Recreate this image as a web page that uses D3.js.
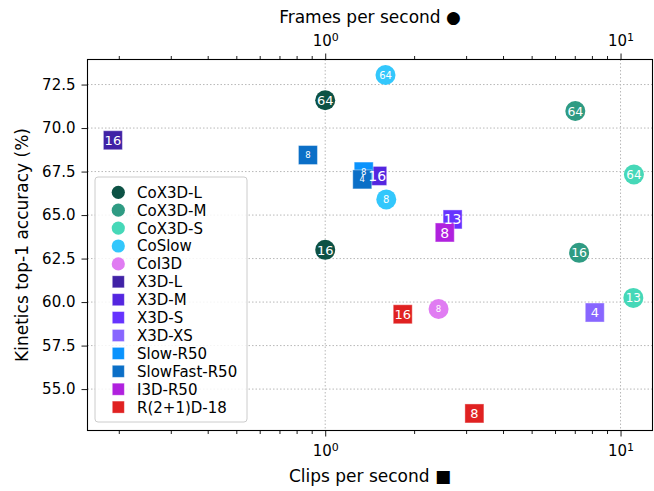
<!DOCTYPE html>
<html><head><meta charset="utf-8">
<script src="https://cdn.jsdelivr.net/npm/d3@7"></script>
<style>body{margin:0;background:#fff}text{font-family:"DejaVu Sans",sans-serif}</style>
</head><body><svg id="c" width="654" height="491"></svg>
<script>
// ---- data ----
const models = ["CoX3D-L","CoX3D-M","CoX3D-S","CoSlow","CoI3D","X3D-L","X3D-M","X3D-S","X3D-XS","Slow-R50","SlowFast-R50","I3D-R50","R(2+1)D-18"];
const speed = [[1.0,1.0],[7.03,7.24],[11.1,11.05],[1.6,1.61],[2.42],[0.191],[1.5],[2.7],[8.18],[1.35],[0.874,1.335],[2.54],[1.83,3.2]];
const accuracy = [[71.6,63.0],[70.98,62.83],[67.33,60.24],[73.05,65.9],[59.6],[69.3],[67.25],[64.75],[59.4],[67.5],[68.45,67.05],[64.0],[59.3,53.6]];
const pointLabels = [["64","16"],["64","16"],["64","13"],["64","8"],["8"],["16"],["16"],["13"],["4"],["8"],["8","4"],["8"],["16","8"]];
const yTicks = [55,57.5,60,62.5,65,67.5,70,72.5];
const xMajorTicks = [1,10];
const xMinorTicks = [0.2,0.3,0.4,0.5,0.6,0.7,0.8,0.9,2,3,4,5,6,7,8,9];

// ---- styles ----
const colors = {"CoX3D-L":"#0d5245","CoX3D-M":"#2f9b83","CoX3D-S":"#46d8b8","CoSlow":"#33c7fc","CoI3D":"#e07cf2",
  "X3D-L":"#4022a6","X3D-M":"#5426e0","X3D-S":"#6633ff","X3D-XS":"#8866ff","Slow-R50":"#0a93fd",
  "SlowFast-R50":"#0b6fc7","I3D-R50":"#b021de","R(2+1)D-18":"#e02121"};
const labelSize = {"CoX3D-L":13,"CoX3D-M":12.5,"CoX3D-S":12,"CoSlow":10,"CoI3D":8.5,"X3D-L":13,"X3D-M":14,
  "X3D-S":14,"X3D-XS":13,"Slow-R50":8.5,"SlowFast-R50":8.5,"I3D-R50":14,"R(2+1)D-18":13};

const svg = d3.select("#c");
const L = 87.5, R = 652.5, T = 59.5, B = 430.5;
const x = d3.scaleLog().domain([0.1567, 12.83]).range([L, R]);
const y = d3.scaleLinear().domain([52.62, 73.94]).range([B, T]);

// grid
const grid = svg.append("g").attr("stroke","#b8b8b8").attr("stroke-width",1).attr("stroke-dasharray","1.5,2");
grid.selectAll("line.h").data(yTicks).join("line").attr("x1",L).attr("x2",R).attr("y1",d=>y(d)).attr("y2",d=>y(d));
grid.selectAll("line.v").data(xMajorTicks).join("line").attr("y1",T).attr("y2",B).attr("x1",d=>x(d)).attr("x2",d=>x(d));

// points
const pts = [];
models.forEach((m,i)=>speed[i].forEach((s,j)=>pts.push({m, s, a:accuracy[i][j], lab:pointLabels[i][j]})));
const mk = svg.append("g");
pts.forEach(p=>{
  if (p.m.startsWith("Co")) {
    mk.append("circle").attr("cx",x(p.s)).attr("cy",y(p.a)).attr("r",10).attr("fill",colors[p.m]);
  } else {
    mk.append("rect").attr("x",x(p.s)-9.5).attr("y",y(p.a)-9.5).attr("width",19).attr("height",19)
      .attr("fill",colors[p.m]).attr("stroke","#fff").attr("stroke-opacity",0.4).attr("stroke-width",1);
  }
});
const lb = svg.append("g");
pts.forEach(p=>{
  lb.append("text").attr("x",x(p.s)).attr("y",y(p.a)).attr("dy","0.36em").attr("text-anchor","middle")
    .attr("fill","#fff").attr("font-size",labelSize[p.m]).text(p.lab);
});

// axes
function supFormat(sel){
  sel.selectAll(".tick text").each(function(d){
    const t = d3.select(this); t.text("");
    t.append("tspan").text("10");
    t.append("tspan").attr("dy","-0.45em").attr("font-size","11px").text(String(Math.round(Math.log10(d))));
  });
}
const axStyle = g=>{ g.select(".domain").remove(); g.selectAll("line").attr("stroke","#000").attr("stroke-width",0.9);
  g.selectAll("text").attr("font-family","DejaVu Sans").attr("font-size","15px").attr("fill","#000"); };

svg.append("g").attr("transform",`translate(0,${B})`)
  .call(d3.axisBottom(x).tickValues(xMajorTicks).tickSize(6).tickPadding(9)).call(axStyle).call(supFormat);
svg.append("g").attr("transform",`translate(0,${B})`)
  .call(d3.axisBottom(x).tickValues(xMinorTicks).tickSize(3.5).tickFormat("")).call(axStyle);
svg.append("g").attr("transform",`translate(0,${T})`)
  .call(d3.axisTop(x).tickValues(xMajorTicks).tickSize(6).tickPadding(8)).call(axStyle).call(supFormat);
svg.append("g").attr("transform",`translate(0,${T})`)
  .call(d3.axisTop(x).tickValues(xMinorTicks).tickSize(3.5).tickFormat("")).call(axStyle);
svg.append("g").attr("transform",`translate(${L},0)`)
  .call(d3.axisLeft(y).tickValues(yTicks).tickFormat(d3.format(".1f")).tickSize(6).tickPadding(6)).call(axStyle);

// frame
svg.append("rect").attr("x",L).attr("y",T).attr("width",R-L).attr("height",B-T)
  .attr("fill","none").attr("stroke","#000").attr("stroke-width",1.1);

// axis labels
svg.append("text").attr("x",(L+R)/2).attr("y",23).attr("text-anchor","middle").attr("font-size","17px").text("Frames per second ●");
svg.append("text").attr("x",(L+R)/2).attr("y",482).attr("text-anchor","middle").attr("font-size","17px").text("Clips per second ■");
svg.append("text").attr("transform",`translate(22,${(T+B)/2}) rotate(-90)`).attr("dy","0.35em").attr("text-anchor","middle")
  .attr("font-size","17px").text("Kinetics top-1 accuracy (%)");

// legend
const lg = svg.append("g");
lg.append("rect").attr("x",95).attr("y",177).attr("width",152).attr("height",245).attr("rx",3)
  .attr("fill","#fff").attr("fill-opacity",0.85).attr("stroke","#cccccc").attr("stroke-width",1);
models.forEach((m,i)=>{
  const cy = 192.3 + i*17.9;
  if (m.startsWith("Co")) lg.append("circle").attr("cx",118.3).attr("cy",cy).attr("r",6.6).attr("fill",colors[m]);
  else lg.append("rect").attr("x",118.3-6).attr("y",cy-6).attr("width",12).attr("height",12).attr("fill",colors[m])
        .attr("stroke","#fff").attr("stroke-opacity",0.4).attr("stroke-width",0.8);
  lg.append("text").attr("x",137).attr("y",cy).attr("dy","0.36em").attr("font-size","15px").attr("fill","#000").text(m);
});
</script></body></html>
